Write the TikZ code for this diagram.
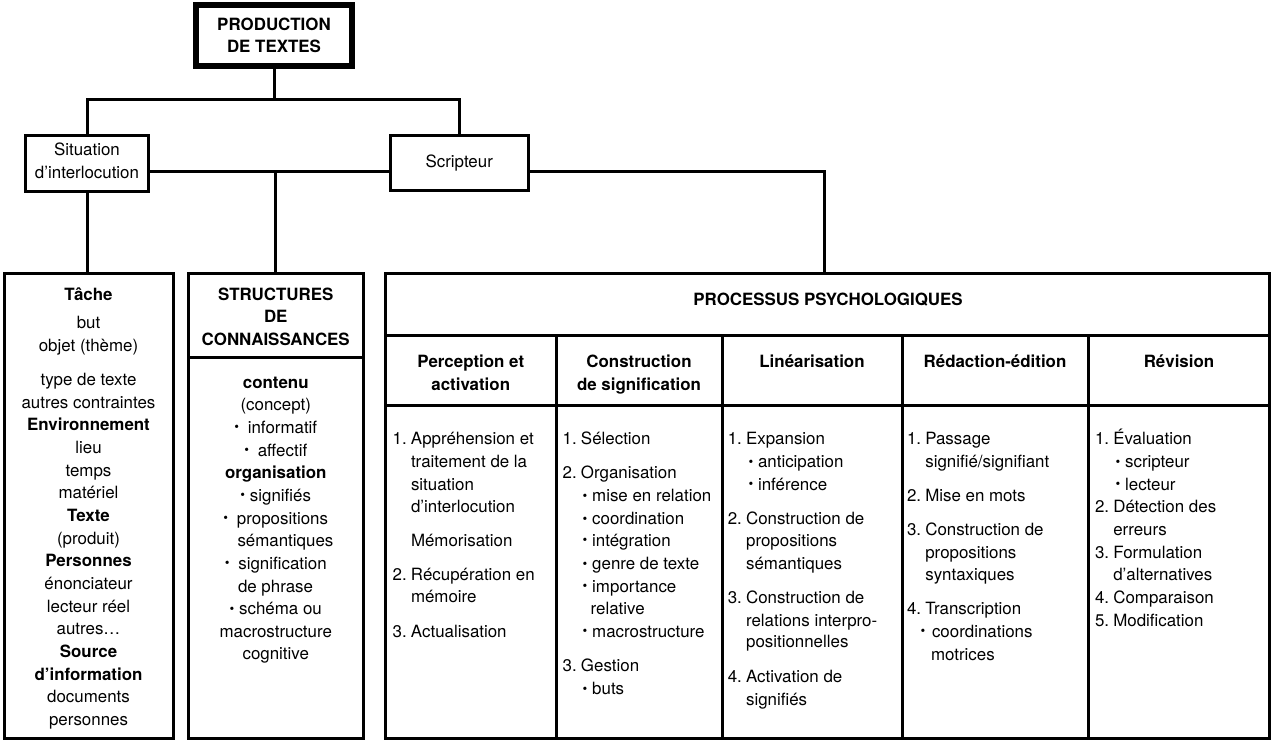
\documentclass[tikz,border=0pt]{standalone}
\usepackage{fontspec}
\setmainfont{TeX Gyre Heros}
\usepackage{graphicx}
\newcommand{\fs}{\fontsize{16.9}{22.7}\selectfont}
\newcommand{\bul}{\raisebox{0.06em}{\scalebox{0.8}{\textbullet}}}
\newcommand{\bl}{\makebox[9.5pt][l]{\bul}}
\newcommand{\blw}{\makebox[13.5pt][l]{\bul}}
\newcommand{\nm}[2]{\makebox[18.3pt][l]{#1}#2}
\begin{document}
\begin{tikzpicture}[x=1pt,y=-1pt,
  every node/.style={inner sep=0pt, outer sep=0pt, font=\fs},
  frame/.style={draw, line width=3pt},
  topframe/.style={draw, line width=6pt},
  conn/.style={line width=3pt},
  txt/.style={anchor=base},
  ltxt/.style={anchor=base west},
  hd/.style={anchor=base, font=\fs\bfseries}]
\useasboundingbox (0,0) rectangle (1276,743);

% boxes
\node[topframe, minimum width=156pt, minimum height=61pt] (prod) at (274,35.5) {};
\node[frame, minimum width=123pt, minimum height=56pt] (sit) at (87,163.5) {};
\node[frame, minimum width=138.5pt, minimum height=55pt] (scr) at (459.25,163) {};
\node[frame, minimum width=168.5pt, minimum height=465pt] (tache) at (88.75,506) {};
\node[frame, minimum width=174.5pt, minimum height=465pt] (struct) at (275.75,506) {};
\node[frame, minimum width=884pt, minimum height=465pt] (proc) at (827.5,506) {};

% junction coordinates
\coordinate (j1) at (274,99.5);
\coordinate (j2) at (275,171.5);
\coordinate (j3) at (824,171.5);
\coordinate (h1) at (0,357.5);
\coordinate (h2) at (0,335.5);
\coordinate (h3) at (0,405);

% connectors
\draw[conn] (prod.south) -- (j1);
\draw[conn] (sit.north) |- (j1) -| (scr.north);
\draw[conn] (sit.east |- j2) -- (scr.west |- j2);
\draw[conn] (struct.north |- j2) -- (struct.north);
\draw[conn] (sit.south) -- (sit.south |- tache.north);
\draw[conn] (scr.east |- j3) -| (j3 |- proc.north);

% inner dividers
\draw[conn] (struct.west |- h1) -- (struct.east |- h1);
\draw[conn] (proc.west |- h2) -- (proc.east |- h2);
\draw[conn] (proc.west |- h3) -- (proc.east |- h3);
\foreach \xx [count=\i] in {556,722,902,1088}
  \draw[conn] (\xx,335.5) coordinate (cd\i) -- (cd\i |- proc.south);

% top texts
\node[hd] (t1) at (274,31) {PRODUCTION};
\node[hd] (t2) at (274,53) {DE TEXTES};
\node[txt] (s1) at (87,156) {Situation};
\node[txt] (s2) at (87,178.5) {d’interlocution};
\node[txt] (sc) at (459.25,168) {Scripteur};

% Tache column
\foreach \yy/\mytext [count=\i] in {
  300/{\textbf{Tâche}}, 328/{but}, 351/{objet (thème)},
  385/{type de texte}, 408/{autres contraintes}, 430.5/{\textbf{Environnement}},
  453/{lieu}, 476/{temps}, 498.5/{matériel}, 521/{\textbf{Texte}},
  544/{(produit)}, 566.5/{\textbf{Personnes}}, 589/{énonciateur},
  612/{lecteur réel}, 634.5/{autres…}, 657/{\textbf{Source}},
  680/{\textbf{d’information}}, 702.5/{documents}, 725/{personnes}}
  \node[txt] (ta\i) at (88.5,\yy) {\mytext};

% Structures column
\node[hd] (sh1) at (275.75,300) {STRUCTURES};
\node[hd] (sh2) at (275.75,322.5) {DE};
\node[hd] (sh3) at (275.75,345) {CONNAISSANCES};
\foreach \yy/\mytext [count=\i] in {
  388/{\textbf{contenu}}, 410.5/{(concept)}, 433/{\blw informatif},
  456/{\blw affectif}, 478.5/{\textbf{organisation}}, 501/{\bl signifiés},
  524/{\blw propositions}, 569/{\blw signification},
  614.5/{\bl schéma ou}, 637/{macrostructure}, 659.5/{cognitive}}
  \node[txt] (sb\i) at (275.75,\yy) {\mytext};
\node[ltxt] (sb12) at (237.5,546.5) {sémantiques};
\node[ltxt] (sb13) at (238,592) {de phrase};

% Processus header
\node[hd] (ph) at (828,305) {PROCESSUS PSYCHOLOGIQUES};
\node[hd] (c1a) at (470.75,367) {Perception et};
\node[hd] (c1b) at (470.75,390) {activation};
\node[hd] (c2a) at (639,367) {Construction};
\node[hd] (c2b) at (639,390) {de signification};
\node[hd] (c3) at (812,367) {Linéarisation};
\node[hd] (c4) at (995,367) {Rédaction-édition};
\node[hd] (c5) at (1179,367) {Révision};

% Perception
\foreach \xx/\yy/\mytext [count=\i] in {
  392.7/444.3/{\nm{1.}{Appréhension et}}, 411/467.3/{traitement de la},
  411/490/{situation}, 411/512.5/{d’interlocution}, 411/546/{Mémorisation},
  392.7/580.3/{\nm{2.}{Récupération en}}, 411/602.7/{mémoire},
  392.7/637/{\nm{3.}{Actualisation}}}
  \node[ltxt] (pa\i) at (\xx,\yy) {\mytext};

% Construction
\foreach \xx/\yy/\mytext [count=\i] in {
  562.7/444.3/{\nm{1.}{Sélection}}, 562.7/478.3/{\nm{2.}{Organisation}},
  582.7/501.7/{\bl mise en relation}, 582.7/524.3/{\bl coordination},
  582.7/546/{\bl intégration}, 582.7/569.3/{\bl genre de texte},
  582.7/592/{\bl importance}, 590.7/614.3/{relative},
  582.7/637/{\bl macrostructure}, 562.7/671.7/{\nm{3.}{Gestion}},
  582.7/694.3/{\bl buts}}
  \node[ltxt] (pb\i) at (\xx,\yy) {\mytext};

% Linearisation
\foreach \xx/\yy/\mytext [count=\i] in {
  727.8/444.3/{\nm{1.}{Expansion}}, 748.5/467.7/{\bl anticipation},
  748.5/490/{\bl inférence}, 727.8/524.3/{\nm{2.}{Construction de}},
  746.1/546.7/{propositions}, 746.1/569.3/{sémantiques},
  727.8/603.3/{\nm{3.}{Construction de}}, 746.1/626/{relations interpro-},
  746.1/647.7/{positionnelles}, 727.8/682/{\nm{4.}{Activation de}},
  746.1/705/{signifiés}}
  \node[ltxt] (pc\i) at (\xx,\yy) {\mytext};

% Redaction
\foreach \xx/\yy/\mytext [count=\i] in {
  907/444.3/{\nm{1.}{Passage}}, 925.3/467.7/{signifié/signifiant},
  907/501.7/{\nm{2.}{Mise en mots}}, 907/535.3/{\nm{3.}{Construction de}},
  925.3/558.3/{propositions}, 925.3/580.3/{syntaxiques},
  907/614.3/{\nm{4.}{Transcription}},
  920.6/637/{\makebox[11.4pt][l]{\bul}coordinations}, 931/660/{motrices}}
  \node[ltxt] (pd\i) at (\xx,\yy) {\mytext};

% Revision
\foreach \xx/\yy/\mytext [count=\i] in {
  1095/444.3/{\nm{1.}{Évaluation}}, 1115.6/467.7/{\bl scripteur},
  1115.6/490/{\bl lecteur}, 1095/512/{\nm{2.}{Détection des}},
  1113.3/535.3/{erreurs}, 1095/558.3/{\nm{3.}{Formulation}},
  1113.3/580.3/{d’alternatives}, 1095/603.3/{\nm{4.}{Comparaison}},
  1095/626/{\nm{5.}{Modification}}}
  \node[ltxt] (pe\i) at (\xx,\yy) {\mytext};
\end{tikzpicture}
\end{document}
